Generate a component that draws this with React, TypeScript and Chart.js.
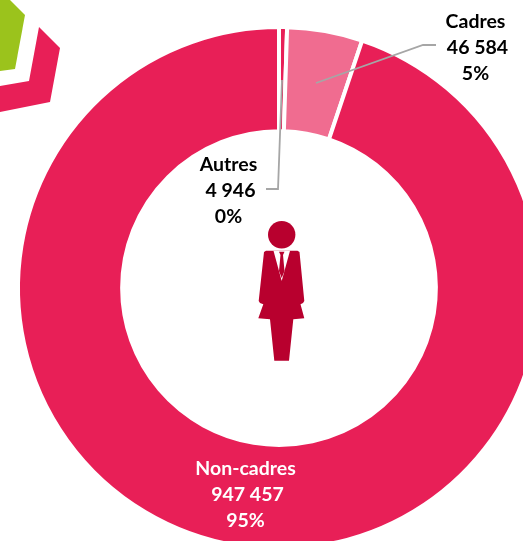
import React, { useEffect, useRef } from "react";
import { Chart, registerables } from "chart.js";

Chart.register(...registerables);

const categories = ["Autres", "Cadres", "Non-cadres"];
const values = [4946, 46584, 947457];
const valueLabels = ["4 946", "46 584", "947 457"];
const percentLabels = ["0%", "5%", "95%"];
const colors = ["#E81F57", "#F06C90", "#E81F57"];

const RED = "#E81F57";
const DARK = "#B8002E";
const GREEN = "#9BC31C";
const FONT = 'bold 19.5px Lato, "Open Sans", sans-serif';

type Pt = [number, number];
function poly(ctx: CanvasRenderingContext2D, pts: Pt[], fill: string) {
  ctx.beginPath();
  pts.forEach(([x, y], i) => (i ? ctx.lineTo(x, y) : ctx.moveTo(x, y)));
  ctx.closePath();
  ctx.fillStyle = fill;
  ctx.fill();
}
function line(ctx: CanvasRenderingContext2D, pts: Pt[]) {
  ctx.beginPath();
  pts.forEach(([x, y], i) => (i ? ctx.lineTo(x, y) : ctx.moveTo(x, y)));
  ctx.strokeStyle = "#A6A6A6";
  ctx.lineWidth = 1.8;
  ctx.stroke();
}
function block(ctx: CanvasRenderingContext2D, i: number, x: number, y: number, color: string) {
  ctx.font = FONT;
  ctx.fillStyle = color;
  ctx.textAlign = "center";
  ctx.textBaseline = "middle";
  ctx.fillText(categories[i], x, y);
  ctx.fillText(valueLabels[i], x + 2, y + 26);
  ctx.fillText(percentLabels[i], x, y + 52);
}

const decorations = {
  id: "decorations",
  afterDraw(chart: Chart) {
    const ctx = chart.ctx;
    ctx.save();
    // corner shapes
    poly(ctx, [[10, 0], [25, 15], [15, 69], [0, 71], [0, 0]], GREEN);
    poly(ctx, [[39, 27], [60, 48], [50, 102], [0, 112], [0, 86], [29, 81]], RED);
    // leader lines
    line(ctx, [[316, 83], [423, 45], [436, 45]]);
    line(ctx, [[282, 80], [278, 189], [266, 189]]);
    // figure
    ctx.beginPath();
    ctx.arc(281.7, 234.7, 13.7, 0, Math.PI * 2);
    ctx.fillStyle = DARK;
    ctx.fill();
    poly(ctx, [
      [266, 250.7], [297.5, 250.7], [299.5, 252], [304.3, 301], [303, 303], [300.5, 304.3],
      [304.3, 318.3], [293.3, 319.3], [289, 360.7], [274.3, 360.7], [270, 319.3], [258.3, 318.3],
      [263.3, 304.3], [260, 303], [258.7, 301], [264, 252],
    ], DARK);
    poly(ctx, [[273.5, 250.7], [290, 250.7], [281.7, 281]], "#FFFFFF");
    poly(ctx, [[279, 251.7], [284.5, 251.7], [283, 255], [284.5, 271], [281.7, 278], [279, 271], [280.5, 255]], DARK);
    // labels
    block(ctx, 1, 475.5, 22, "#000000");
    block(ctx, 0, 228.5, 165, "#000000");
    block(ctx, 2, 245.5, 469, "#FFFFFF");
    ctx.restore();
  },
};

export default function App() {
  const ref = useRef<HTMLCanvasElement>(null);
  useEffect(() => {
    document.body.style.margin = "0";
    const chart = new Chart(ref.current!, {
      type: "doughnut",
      data: {
        labels: categories,
        datasets: [{ data: values, backgroundColor: colors, borderColor: "#FFFFFF", borderWidth: 4 }],
      },
      options: {
        responsive: false,
        animation: false,
        cutout: "60.1%",
        layout: { padding: 16 },
        plugins: { legend: { display: false }, tooltip: { enabled: false } },
      },
      plugins: [decorations],
    });
    return () => chart.destroy();
  }, []);
  return (
    <div style={{ position: "fixed", left: 0, top: 0, width: 523, height: 541, overflow: "hidden", background: "#fff" }}>
      <canvas ref={ref} width={558} height={576} style={{ display: "block", width: 558, height: 576 }} />
    </div>
  );
}
